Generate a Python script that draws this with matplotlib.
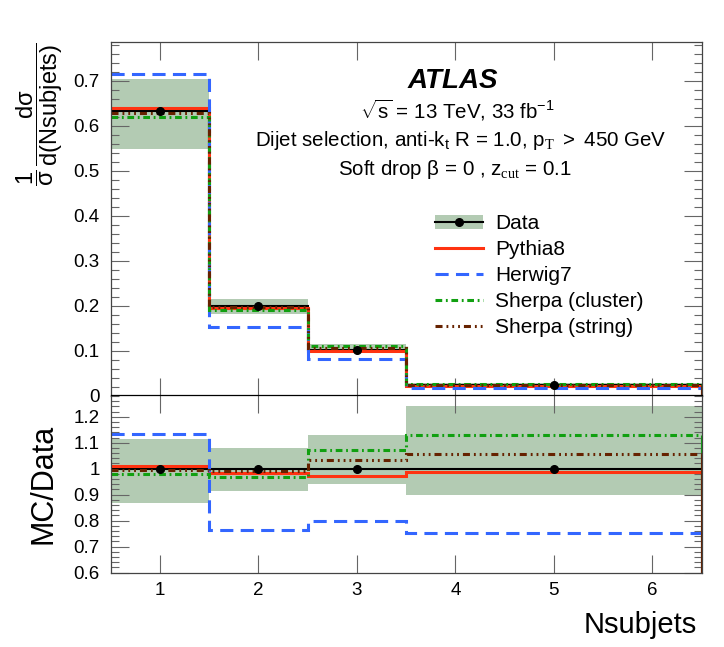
import matplotlib
matplotlib.use("Agg")
import matplotlib.pyplot as plt
import numpy as np
from matplotlib.patches import Patch
from matplotlib.lines import Line2D
from matplotlib.ticker import MultipleLocator, FixedLocator, FuncFormatter

plt.rcParams['font.family'] = ['Liberation Sans', 'DejaVu Sans']
plt.rcParams['mathtext.fontset'] = 'custom'
plt.rcParams['mathtext.rm'] = 'Liberation Sans'
plt.rcParams['mathtext.sf'] = 'Liberation Sans'
plt.rcParams['mathtext.it'] = 'Liberation Sans:italic'
plt.rcParams['mathtext.bf'] = 'Liberation Sans:bold'
plt.rcParams['mathtext.tt'] = 'Liberation Serif'

# ---- data ----
bin_edges = [0.5, 1.5, 2.5, 3.5, 6.5]
data_x = [1, 2, 3, 5]
data_vals = [0.632, 0.198, 0.102, 0.0225]
data_rel_up = [0.114, 0.079, 0.130, 0.240]
data_rel_dn = [0.131, 0.086, 0.058, 0.103]

pythia8 = [0.639, 0.195, 0.0993, 0.0222]
herwig7 = [0.716, 0.1515, 0.0816, 0.0169]
sherpa_cluster = [0.619, 0.1913, 0.1094, 0.0254]
sherpa_string = [0.628, 0.1960, 0.1055, 0.0238]

xticks = [1, 2, 3, 4, 5, 6]

labels = ["Data", "Pythia8", "Herwig7", "Sherpa (cluster)", "Sherpa (string)"]

# ---- styles ----
band_color = '#b3cbb3'
styles = {
    "Pythia8": dict(color='#ff3311', ls='-'),
    "Herwig7": dict(color='#3366ff', ls=(0, (4.3, 2.4))),
    "Sherpa (cluster)": dict(color='#11a011', ls=(0, (2.2, 1.2, 0.6, 1.2))),
    "Sherpa (string)": dict(color='#662200', ls=(0, (2.3, 1.3, 0.6, 1.3, 0.6, 1.3, 0.6, 1.3))),
}
mc = {"Pythia8": pythia8, "Herwig7": herwig7,
      "Sherpa (cluster)": sherpa_cluster, "Sherpa (string)": sherpa_string}
order = ["Pythia8", "Herwig7", "Sherpa (cluster)", "Sherpa (string)"]
LW = 2.2

W, H = 724, 647
fig = plt.figure(figsize=(W / 100, H / 100), dpi=100)
L, R = 110.7 / W, 701.7 / W
top1, bot1 = 1 - 41.7 / H, 1 - 395.5 / H
bot2 = 1 - 572.5 / H
ax1 = fig.add_axes([L, bot1, R - L, top1 - bot1])
ax2 = fig.add_axes([L, bot2, R - L, bot1 - bot2])

edges = np.array(bin_edges)
dv = np.array(data_vals)
up = dv * (1 + np.array(data_rel_up))
dn = dv * (1 - np.array(data_rel_dn))


def draw_hist(ax, vals, st, z):
    ax.stairs(vals, edges, baseline=None, color=st['color'], ls=st['ls'], lw=LW, zorder=z)
    ax.vlines(edges[-1], 0, vals[-1], color=st['color'], lw=LW, zorder=z)


# top panel
for i in range(len(dv)):
    ax1.fill_between([edges[i], edges[i + 1]], dn[i], up[i], color=band_color, lw=0, zorder=1)
ax1.stairs(dv, edges, baseline=None, color='black', lw=1.5, zorder=2)
for k, name in enumerate(order):
    draw_hist(ax1, np.array(mc[name]), styles[name], 3 + 0.1 * k)
ax1.plot(data_x, dv, 'o', color='black', ms=5.5, zorder=5)

# ratio panel
for i in range(len(dv)):
    ax2.fill_between([edges[i], edges[i + 1]], 1 - data_rel_dn[i], 1 + data_rel_up[i],
                     color=band_color, lw=0, zorder=1)
ax2.plot([edges[0], edges[-1]], [1, 1], color='black', lw=1.5, zorder=2)
for k, name in enumerate(order):
    draw_hist(ax2, np.array(mc[name]) / dv, styles[name], 3 + 0.1 * k)
ax2.plot(data_x, np.ones(len(data_x)), 'o', color='black', ms=5.5, zorder=5)

# axes
for ax in (ax1, ax2):
    ax.set_xlim(edges[0], edges[-1])
    ax.xaxis.set_major_locator(FixedLocator(xticks))
    ax.tick_params(axis='both', which='both', direction='in', top=True, right=True,
                   color='#666666', width=0.8, labelsize=13.5)
    ax.tick_params(axis='both', which='major', length=13)
    ax.tick_params(axis='y', which='minor', length=6)
    ax.tick_params(axis='x', which='minor', length=0)
    for sp in ax.spines.values():
        sp.set_color('#444444')
        sp.set_linewidth(0.9)
        sp.set_zorder(6)

ax1.set_ylim(0, 0.787)
ax1.yaxis.set_major_locator(MultipleLocator(0.1))
ax1.yaxis.set_minor_locator(MultipleLocator(0.02))
ax1.tick_params(axis='x', labelbottom=False)
ax1.tick_params(axis='y', pad=8)
ax1.yaxis.set_major_formatter(FuncFormatter(lambda v, p: '0' if abs(v) < 1e-9 else f'{v:.1f}'))
ax1.spines['bottom'].set_color('black')

ax2.set_ylim(0.6, 1.282)
ax2.yaxis.set_major_locator(MultipleLocator(0.1))
ax2.yaxis.set_minor_locator(MultipleLocator(0.02))
ax2.yaxis.set_major_formatter(FuncFormatter(lambda v, p: '1' if abs(v - 1) < 1e-9 else f'{v:.1f}'))
ax2.tick_params(axis='y', pad=8)
ax2.tick_params(axis='x', pad=7)
ax2.spines['top'].set_color('black')

# labels
fig.text(40 / W, 1 - 42 / H,
         r'$\dfrac{\mathrm{1}}{\mathrm{σ}}\,\dfrac{\mathrm{dσ}}{\mathrm{d(Nsubjets)}}$',
         rotation=90, ha='center', va='top', fontsize=17)
fig.text(43 / W, 1 - 484 / H, 'MC/Data', rotation=90, ha='center', va='center', fontsize=22)
fig.text(697 / W, 1 - 633 / H, 'Nsubjets', ha='right', va='baseline', fontsize=21)

fig.text(453 / W, 1 - 88 / H, 'ATLAS', ha='center', va='baseline', fontsize=20,
         fontweight='bold', fontstyle='italic')
fig.text(457 / W, 1 - 118.5 / H, r'$\sqrt{\mathrm{s}}$ = 13 TeV, 33 fb$^{-1}$', ha='center',
         va='baseline', fontsize=14.8)
fig.text(461 / W, 1 - 146.5 / H,
         r'Dijet selection, anti-k$_{\mathrm{t}}$ R = 1.0, p$_{\mathtt{T}}$ $>$ 450 GeV',
         ha='center', va='baseline', fontsize=14.8)
fig.text(455 / W, 1 - 175 / H, r'Soft drop $\mathrm{β}$ = 0 , z$_{\mathtt{cut}}$ = 0.1',
         ha='center', va='baseline', fontsize=14.8)

# legend
handles = [(Patch(facecolor=band_color, edgecolor='none'),
            Line2D([], [], color='black', lw=1.5, marker='o', ms=5.5))]
for name in order:
    st = styles[name]
    handles.append(Line2D([], [], color=st['color'], ls=st['ls'], lw=LW))
leg = fig.legend(handles, labels, loc='upper left', bbox_to_anchor=(435 / W, 1 - 214.4 / H),
                 frameon=False, fontsize=15, handlelength=2.29, handletextpad=0.59,
                 labelspacing=0.33, borderaxespad=0, borderpad=0)

fig.savefig('out.png', dpi=100)
